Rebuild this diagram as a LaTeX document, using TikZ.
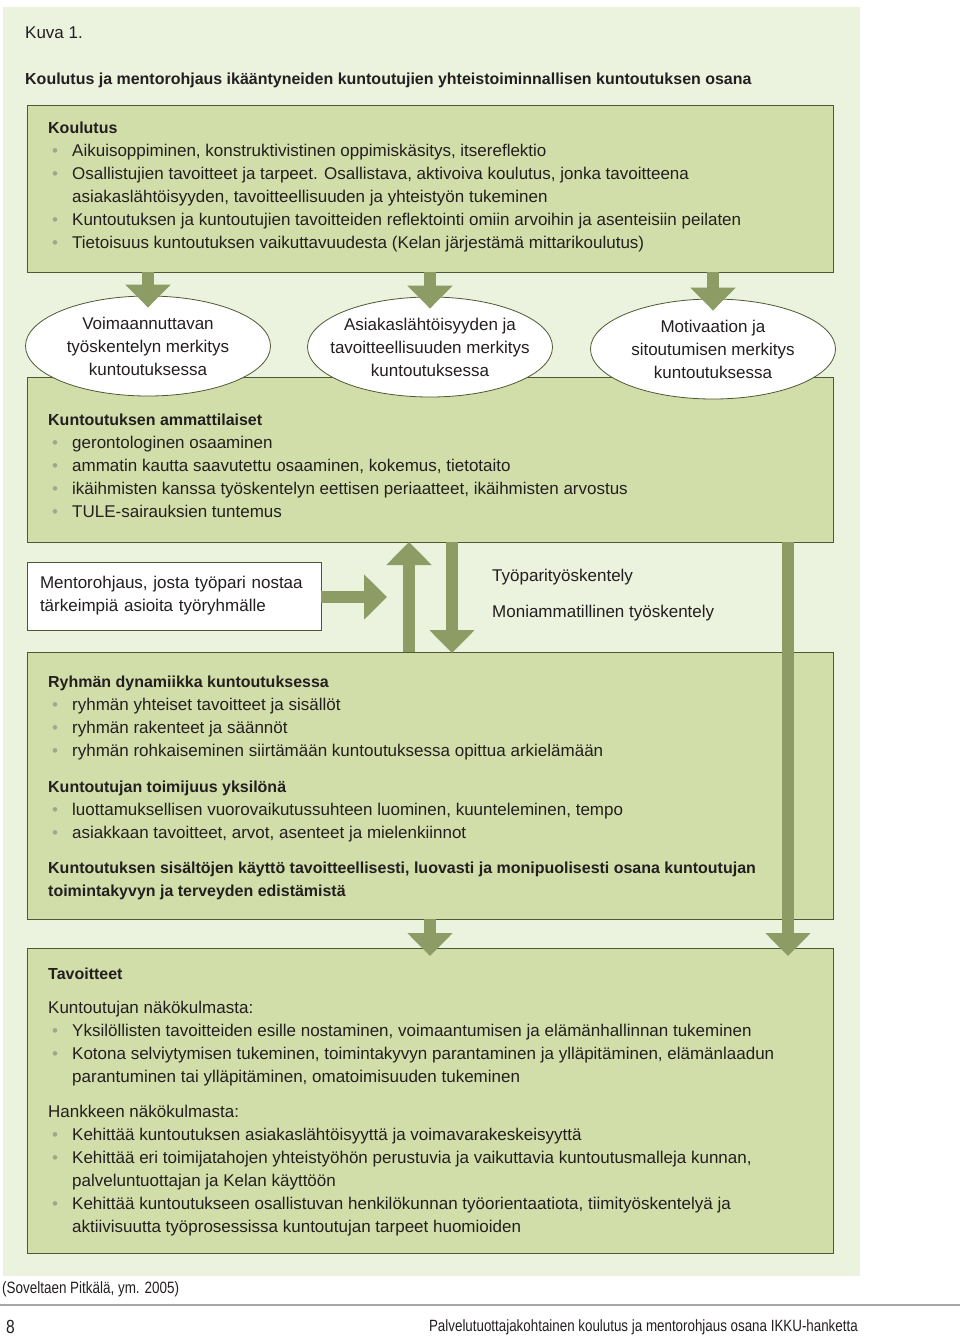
\documentclass[tikz,border=0pt]{standalone}
\usepackage{fontspec}
\setmainfont{Liberation Sans}[BoldFeatures={Scale=0.94}]
\newfontfamily\narrowfont[FakeStretch=0.82]{Liberation Sans}
\usetikzlibrary{shapes.geometric,arrows.meta,positioning}

\definecolor{panelbg}{RGB}{235,242,221}
\definecolor{boxfill}{RGB}{210,222,169}
\definecolor{boxline}{RGB}{78,88,52}
\definecolor{arrowcol}{RGB}{141,156,100}
\definecolor{bulletcol}{RGB}{160,168,140}
\definecolor{textcol}{RGB}{35,31,32}

% bullet, continuation indent, first line strut
\newcommand\itm{\makebox[24pt][l]{\hspace{4pt}\textcolor{bulletcol}{\textbullet}}}
\newcommand\cnt{\hspace*{24pt}}
\newcommand\firstline{\rule{0pt}{12pt}}

\begin{document}
\begin{tikzpicture}[x=1pt,y=-1pt,
  every node/.style={text=textcol,font=\fontsize{17}{23}\selectfont},
  greenbox/.style={draw=boxline,fill=boxfill,line width=1pt,anchor=north west,inner sep=0pt,outer sep=0pt},
  boxtext/.style={anchor=north west,align=left,inner sep=0pt},
  oval/.style={ellipse,draw=boxline,fill=white,line width=0.8pt,minimum width=245pt,minimum height=100pt,align=center,inner xsep=-30pt,inner ysep=0pt},
  bigarrow/.style={draw=arrowcol,line width=12pt,-{Triangle[width=44pt,length=23pt]}}
]
  \useasboundingbox (0,0) rectangle (960,1336);

  % Background panel
  \fill[panelbg] (3,7) rectangle (860,1276);

  % Heading
  \node[anchor=base west,inner sep=0pt] (kuva) at (25,38) {Kuva 1.};
  \node[anchor=base west,inner sep=0pt] (title) at (25,84) {\textbf{Koulutus ja mentorohjaus ikääntyneiden kuntoutujien yhteistoiminnallisen kuntoutuksen osana}};

  % Koulutus
  \node[greenbox,minimum width=806pt,minimum height=167pt] (koulutus) at (27,105) {};
  \node[boxtext] (koulutustxt) at (48,121) {\firstline\textbf{Koulutus}\\
    \itm Aikuisoppiminen, konstruktivistinen oppimiskäsitys, itsereflektio\\
    \itm Osallistujien tavoitteet ja tarpeet. Osallistava, aktivoiva koulutus, jonka tavoitteena\\
    \cnt asiakaslähtöisyyden, tavoitteellisuuden ja yhteistyön tukeminen\\
    \itm Kuntoutuksen ja kuntoutujien tavoitteiden reflektointi omiin arvoihin ja asenteisiin peilaten\\
    \itm Tietoisuus kuntoutuksen vaikuttavuudesta (Kelan järjestämä mittarikoulutus)};

  % Kuntoutuksen ammattilaiset
  \node[greenbox,minimum width=806pt,minimum height=165pt] (ammatti) at (27,377) {};
  \node[boxtext] (ammattitxt) at (48,413) {\firstline\textbf{Kuntoutuksen ammattilaiset}\\
    \itm gerontologinen osaaminen\\
    \itm ammatin kautta saavutettu osaaminen, kokemus, tietotaito\\
    \itm ikäihmisten kanssa työskentelyn eettisen periaatteet, ikäihmisten arvostus\\
    \itm TULE-sairauksien tuntemus};

  % Ellipses
  \node[oval] (voima) at (148,346) {Voimaannuttavan\\työskentelyn merkitys\\kuntoutuksessa};
  \node[oval] (asiakas) at (430,347) {Asiakaslähtöisyyden ja\\tavoitteellisuuden merkitys\\kuntoutuksessa};
  \node[oval] (motiv) at (713,349) {Motivaation ja\\sitoutumisen merkitys\\kuntoutuksessa};

  \foreach \e in {voima,asiakas,motiv}
    \draw[bigarrow] (koulutus.south -| \e.north) -- ([yshift=-12pt]\e.north);

  % Mentorohjaus
  \node[draw=boxline,fill=white,line width=1pt,anchor=north west,outer sep=0pt,
        inner xsep=13pt,inner ysep=0pt,text width=268pt,minimum height=68pt,align=left]
    (mentor) at (27,562) {Mentorohjaus, josta työpari nostaa\\tärkeimpiä asioita työryhmälle};
  \node[anchor=west,inner sep=0pt] (tyopari) at (492,577) {Työparityöskentely};
  \node[anchor=west,inner sep=0pt] (moniamm) at (492,613) {Moniammatillinen työskentely};

  % Ryhmän dynamiikka
  \node[greenbox,minimum width=806pt,minimum height=267pt] (ryhma) at (27,652) {};
  \node[boxtext] (ryhmatxt) at (48,675) {\firstline\textbf{Ryhmän dynamiikka kuntoutuksessa}\\
    \itm ryhmän yhteiset tavoitteet ja sisällöt\\
    \itm ryhmän rakenteet ja säännöt\\
    \itm ryhmän rohkaiseminen siirtämään kuntoutuksessa opittua arkielämään\\[13pt]
    \textbf{Kuntoutujan toimijuus yksilönä}\\
    \itm luottamuksellisen vuorovaikutussuhteen luominen, kuunteleminen, tempo\\
    \itm asiakkaan tavoitteet, arvot, asenteet ja mielenkiinnot\\[12pt]
    \textbf{Kuntoutuksen sisältöjen käyttö tavoitteellisesti, luovasti ja monipuolisesti osana kuntoutujan}\\
    \textbf{toimintakyvyn ja terveyden edistämistä}};

  % Tavoitteet
  \node[greenbox,minimum width=806pt,minimum height=305pt] (tavoite) at (27,948) {};
  \node[boxtext] (tavoitetxt) at (48,967) {\firstline\textbf{Tavoitteet}\\[11pt]
    Kuntoutujan näkökulmasta:\\
    \itm Yksilöllisten tavoitteiden esille nostaminen, voimaantumisen ja elämänhallinnan tukeminen\\
    \itm Kotona selviytymisen tukeminen, toimintakyvyn parantaminen ja ylläpitäminen, elämänlaadun\\
    \cnt parantuminen tai ylläpitäminen, omatoimisuuden tukeminen\\[12pt]
    Hankkeen näkökulmasta:\\
    \itm Kehittää kuntoutuksen asiakaslähtöisyyttä ja voimavarakeskeisyyttä\\
    \itm Kehittää eri toimijatahojen yhteistyöhön perustuvia ja vaikuttavia kuntoutusmalleja kunnan,\\
    \cnt palveluntuottajan ja Kelan käyttöön\\
    \itm Kehittää kuntoutukseen osallistuvan henkilökunnan työorientaatiota, tiimityöskentelyä ja\\
    \cnt aktiivisuutta työprosessissa kuntoutujan tarpeet huomioiden};

  % Arrows between boxes
  \coordinate (upx) at (409,0);
  \coordinate (downx) at (452,0);
  \coordinate (midx) at (430,0);
  \coordinate (rightx) at (788,0);
  \coordinate (mentorend) at (387,597);
  \draw[bigarrow] (mentor.east |- mentorend) -- (mentorend);
  \draw[bigarrow] (ryhma.north -| upx) -- (ammatti.south -| upx);
  \draw[bigarrow] (ammatti.south -| downx) -- ([yshift=-1pt]ryhma.north -| downx);
  \draw[bigarrow] (ryhma.south -| midx) -- ([yshift=-8pt]tavoite.north -| midx);
  \draw[bigarrow] (ammatti.south -| rightx) -- ([yshift=-8pt]tavoite.north -| rightx);

  % Footer
  \node[anchor=west,inner sep=0pt,font=\narrowfont\fontsize{16.4}{19}\selectfont] (lahde) at (2,1289) {(Soveltaen Pitkälä, ym. 2005)};
  \draw[gray!70,line width=1.2pt] (0,1305) -- (960,1305);
  \node[anchor=west,inner sep=0pt,font=\narrowfont\fontsize{19}{22}\selectfont] (sivu) at (6,1327) {8};
  \node[anchor=east,inner sep=0pt,font=\narrowfont\fontsize{16.3}{19}\selectfont] (julkaisu) at (858,1327) {Palvelutuottajakohtainen koulutus ja mentorohjaus osana IKKU-hanketta};
\end{tikzpicture}
\end{document}
